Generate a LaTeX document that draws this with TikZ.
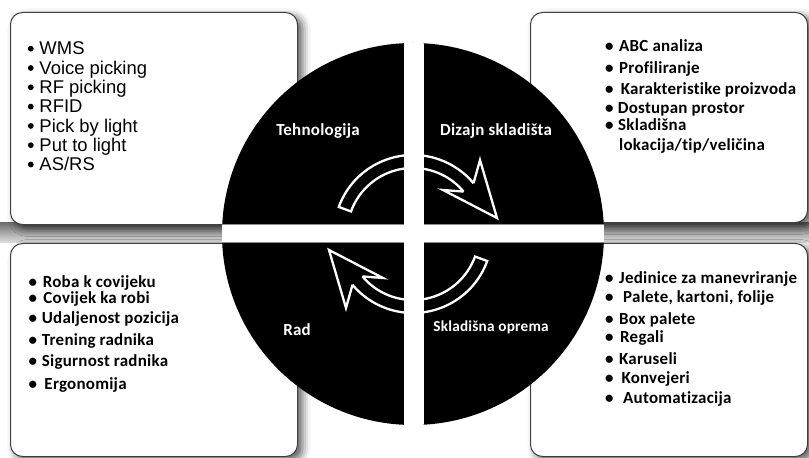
\documentclass[tikz,border=0pt]{standalone}
\usepackage{fontspec}
\setmainfont{Carlito}[Ligatures=NoCommon, LetterSpace=1.5]
\newfontfamily\arialf{Liberation Sans}
\usetikzlibrary{shadows.blur}
\tikzset{
  box/.style={draw=black!75, line width=1bp, fill=white, rounded corners=12bp, inner sep=0pt,
    anchor=north west,
    blur shadow={shadow xshift=5bp, shadow yshift=-4bp, shadow blur radius=8bp, shadow opacity=65}},
  itemB/.style={anchor=base west, inner sep=0pt, font=\bfseries\fontsize{17}{19}\selectfont, text=black},
  itemA/.style={anchor=base west, inner sep=0pt, font=\arialf\fontsize{18.5}{19}\selectfont, text=black},
  lbl/.style={text=white, font=\bfseries\fontsize{17}{19}\selectfont, inner sep=0pt},
  arr/.style={draw=white, line width=2.3bp, line join=miter},
  bul/.style={fill=black},
}
\begin{document}
\begin{tikzpicture}[x=1bp, y=-1bp]
\useasboundingbox (0,0) rectangle (809,458);
% band between the boxes
\shade[top color=black!55, bottom color=black!12] (0,223) rectangle (809,243);
% boxes
\node[box, minimum width=287bp, minimum height=212bp] (tlbox) at (10,12) {};
\node[box, minimum width=277bp, minimum height=210bp] (trbox) at (530,12) {};
\node[box, minimum width=287bp, minimum height=213bp] (blbox) at (10,243) {};
\node[box, minimum width=277bp, minimum height=213bp] (brbox) at (530,243) {};
% lists
\foreach \t [count=\i] in {WMS, Voice picking, RF picking, RFID, Pick by light, Put to light, AS/RS}{
  \node[itemA] (tl-\i) at (39.3,{55+(\i-1)*19.3}) {\t};
  \fill[bul] (tl-\i.base west) ++(-8.5,-6.3) circle[radius=2.9bp];
}
\foreach \y/\g/\t [count=\i] in {51.7/14/{ABC analiza}, 74/14/{Profiliranje}, 94.3/15.7/{Karakteristike proizvoda}, 113.3/12.7/{Dostupan prostor}, 130.7/13/{Skladišna}}
  \node[itemB] (tr-\i) at (605,\y) {\makebox[\g bp][l]{•}\t};
\node[itemB] (tr-6) at (619,150.7) {lokacija/tip/veličina};
\foreach \y/\g/\t [count=\i] in {288/14.2/{Roba k covijeku}, 304/14.8/{Covijek ka robi}, 323.7/13.2/{Udaljenost pozicija}, 345.3/13.2/{Trening radnika}, 366.3/13.2/{Sigurnost radnika}, 389.7/15.8/{Ergonomija}}
  \node[itemB] (bl-\i) at (28.5,\y) {\makebox[\g bp][l]{•}\t};
\foreach \y/\g/\t [count=\i] in {284/14/{Jedinice za manevriranje}, 303/18/{Palete, kartoni, folije}, 324.7/14/{Box palete}, 343/15/{Regali}, 364.7/14/{Karuseli}, 384/16.3/{Konvejeri}, 403/18/{Automatizacija}}
  \node[itemB] (br-\i) at (605,\y) {\makebox[\g bp][l]{•}\t};
% central disc
\node[circle, fill=black, minimum size=382bp, inner sep=0pt] (hub) at (413,234) {};
% arrows
\begin{scope}[shift={(413,234)}]
  \draw[arr] (40:66bp) arc[start angle=40, end angle=160, radius=66bp] -- (160:79bp) arc[start angle=160, end angle=40, radius=79bp];
  \draw[arr] (40:79bp) -- (67bp,74bp) -- (84bp,16bp) -- (30bp,44bp) -- (40:66bp);
\end{scope}
\begin{scope}[shift={(413,234)}, rotate=180]
  \draw[arr] (40:66bp) arc[start angle=40, end angle=160, radius=66bp] -- (160:79bp) arc[start angle=160, end angle=40, radius=79bp];
  \draw[arr] (40:79bp) -- (67bp,74bp) -- (84bp,16bp) -- (30bp,44bp) -- (40:66bp);
\end{scope}
% white cross
\begin{scope}
  \clip (413,234) circle[radius=191bp];
  \fill[white] (200,224) rectangle (630,243);
  \draw[black!45, line width=1.2bp] (200,224.3) -- (630,224.3) (200,242.7) -- (630,242.7);
  \fill[white] (404,30) rectangle (424,440);
\end{scope}
% labels
\node[lbl] (tech) at (318,131) {Tehnologija};
\node[lbl] (diz) at (496,131) {Dizajn skladišta};
\node[lbl] (rad) at (297,330) {Rad};
\node[lbl, font=\bfseries\fontsize{15.3}{18}\selectfont] (opr) at (491,327) {Skladišna oprema};
\end{tikzpicture}
\end{document}
